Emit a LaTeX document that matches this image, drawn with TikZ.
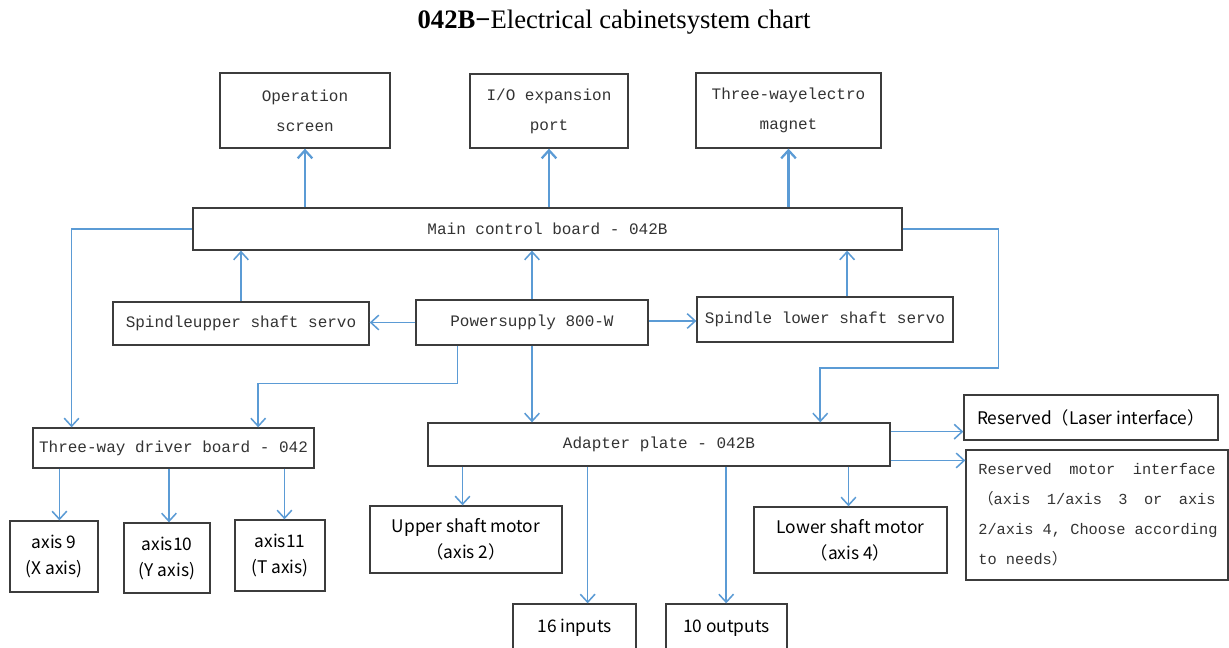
\documentclass[tikz,border=0pt]{standalone}
\usepackage{fontspec}
\setmainfont{Liberation Serif}
\newfontfamily\monof{Liberation Mono}
\newfontfamily\cjkf{Noto Sans CJK SC}
\usetikzlibrary{arrows.meta,calc}
\definecolor{wireblue}{HTML}{5B9BD5}
\definecolor{frame}{HTML}{3C3C3C}
\definecolor{ink}{HTML}{333333}
\newcommand\rline[1]{\makebox[178pt][l]{#1}}
% \cbox{style}{name}{x1}{y1}{x2}{y2}{text}: box given by its corners
\newcommand\cbox[7]{%
  \node[#1, minimum width={(#5-#3)*0.75pt}, minimum height={(#6-#4)*0.75pt}]
    (#2) at ({(#3+#5)/2},{(#4+#6)/2}) {#7};}
\begin{document}
\begin{tikzpicture}[x=0.75pt,y=-0.75pt,
  box/.style={draw=frame, line width=1pt, inner sep=0pt, text=ink, align=center},
  mono/.style={box, font=\monof\fontsize{12}{22.5}\selectfont},
  sans/.style={box, font=\cjkf\fontsize{13}{19.5}\selectfont, text=black},
  link/.style={draw=wireblue, line width=1.15pt, -{Straight Barb[length=6pt,width=11pt]}},
  uplink/.style={link, line width=1.7pt}]
\clip (0,0) rectangle (1229,647);
\fill[white] (0,0) rectangle (1229,647);

% title
\node (title) at (614,22) {\fontsize{20}{24}\selectfont\textbf{042B−}Electrical cabinetsystem chart};

% top row
\cbox{mono}{ops}{220}{73}{390}{148}{Operation\\screen}
\cbox{mono}{io}{470}{74}{628}{148}{I/O expansion\\port}
\cbox{mono}{mag}{696}{73}{881}{148}{Three-wayelectro\\magnet}

% main board
\cbox{mono}{main}{193}{208}{902}{250}{Main control board - 042B}

% servo / power row
\cbox{mono}{sup}{113}{302}{369}{345}{Spindleupper shaft servo}
\cbox{mono}{psu}{416}{300}{648}{345}{Powersupply 800-W}
\cbox{mono}{slo}{697}{297}{953}{342}{Spindle lower shaft servo}

% driver board and adapter plate
\cbox{mono}{drv}{33}{428}{314}{468}{Three-way driver board - 042}
\cbox{mono}{adp}{428}{423}{890}{466}{Adapter plate - 042B}

% reserved interfaces
\cbox{sans}{laser}{964}{395}{1218}{440}{Reserved（Laser interface）}
\cbox{mono, font=\monof\fontsize{11.5}{22.5}\selectfont, align=left}{motif}{966}{450}{1228}{580}{%
   \rline{Reserved\hfill motor\hfill interface}\\
   \rline{{\cjkf（}axis\hfill 1/axis\hfill 3\hfill or\hfill axis}\\
   \rline{2/axis 4, Choose according}\\
   \rline{to needs{\cjkf）}}}

% axes
\cbox{sans}{ax9}{10}{521}{98}{592}{axis 9\\(X axis)}
\cbox{sans}{ax10}{124}{523}{210}{593}{axis10\\(Y axis)}
\cbox{sans}{ax11}{235}{520}{325}{591}{axis11\\(T axis)}

% motors and I/O
\cbox{sans}{upm}{370}{506}{562}{573}{Upper shaft motor\\（axis 2）}
\cbox{sans}{lom}{754}{507}{947}{573}{Lower shaft motor\\（axis 4）}
\cbox{sans}{inp}{513}{604}{636}{652}{16 inputs}
\cbox{sans}{outp}{666}{604}{787}{652}{10 outputs}

% main board to top row
\draw[uplink] (ops.south |- main.north) -- (ops.south);
\draw[uplink] (io.south |- main.north) -- (io.south);
\draw[uplink] (mag.south |- main.north) -- (mag.south);

% servos and power to main board
\draw[link] (sup.north) -- (sup.north |- main.south);
\draw[link] (psu.north) -- (psu.north |- main.south);
\coordinate (slotop) at ($(slo.north west)!0.586!(slo.north east)$);
\draw[link] (slotop) -- (slotop |- main.south);

% power to servos
\draw[link] (psu.west) -- (psu.west -| sup.east);
\coordinate (pe) at ($(psu.east)+(0,-1.5)$);
\draw[link] (pe) -- (pe -| slo.west);

% power to adapter plate and driver board
\draw[link] (psu.south) -- (psu.south |- adp.north);
\draw[link] ($(psu.south west)!0.181!(psu.south east)$) -- ++(0,38)
  -| ($(drv.north west)!0.8!(drv.north east)$);

% main board to driver board and adapter plate
\draw[link] (main.west) -| ($(drv.north west)!0.139!(drv.north east)$);
\draw[link] (main.east) -- ++(96,0) -- ++(0,139)
  -| ($(adp.north west)!0.848!(adp.north east)$);

% driver board to axes
\foreach \f/\t in {0.096/ax9, 0.484/ax10, 0.893/ax11}{
  \coordinate (p) at ($(drv.south west)!\f!(drv.south east)$);
  \draw[link] (p) -- (p |- \t.north);
}

% adapter plate to reserved interfaces
\coordinate (a1) at ($(adp.north east)!0.21!(adp.south east)$);
\coordinate (a2) at ($(adp.north east)!0.86!(adp.south east)$);
\draw[link] (a1) -- (a1 -| laser.west);
\draw[link] (a2) -- (a2 -| motif.west);

% adapter plate to motors and I/O
\foreach \f/\t in {0.076/upm, 0.346/inp, 0.645/outp, 0.909/lom}{
  \coordinate (q) at ($(adp.south west)!\f!(adp.south east)$);
  \draw[link] (q) -- (q |- \t.north);
}
\end{tikzpicture}
\end{document}
